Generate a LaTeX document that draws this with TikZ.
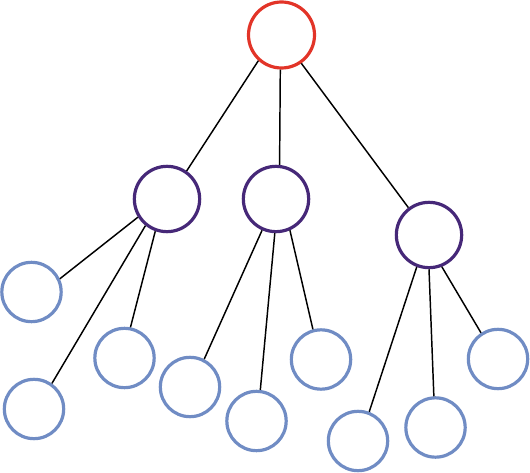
\documentclass[tikz,border=0pt]{standalone}
\usepackage{tikz}
\definecolor{rootred}{RGB}{226,52,40}
\definecolor{midpurple}{RGB}{70,40,120}
\definecolor{leafblue}{RGB}{112,140,196}
\tikzset{every picture/.style={line width=0.75pt}}
\tikzset{
rootnode/.style={circle,draw=rootred,line width=2.4pt,minimum size=49.5pt,inner sep=0pt},
midnode/.style={circle,draw=midpurple,line width=2.4pt,minimum size=49pt,inner sep=0pt},
leafnode/.style={circle,draw=leafblue,line width=2.4pt,minimum size=44.5pt,inner sep=0pt},
edgeline/.style={draw=black,line width=1.1pt}}

\begin{document}
\begin{tikzpicture}[x=0.75pt,y=0.75pt,yscale=-1,xscale=1]
\useasboundingbox (0,0) rectangle (530,473);

%Shape: Circle [root]
\node [rootnode] (root) at (281.5,35) {};
%Shape: Circle [second level]
\node [midnode] (mL) at (167,199) {};
\node [midnode] (mM) at (276,199) {};
\node [midnode] (mR) at (429,235) {};
%Shape: Circle [leaves]
\node [leafnode] (l1) at (31.5,292) {};
\node [leafnode] (l2) at (34,409) {};
\node [leafnode] (l3) at (124.5,358) {};
\node [leafnode] (l4) at (190,387) {};
\node [leafnode] (l5) at (256.5,421) {};
\node [leafnode] (l6) at (321,359.5) {};
\node [leafnode] (l7) at (358,441) {};
\node [leafnode] (l8) at (435.5,427.5) {};
\node [leafnode] (l9) at (498,359) {};

%Straight Lines [root to second level]
\draw [edgeline] (root.228) -- (mL.55) ;
\draw [edgeline] (root.268) -- (mM.84) ;
\draw [edgeline] (root.305) -- (mR.127) ;
%Straight Lines [left subtree]
\draw [edgeline] (mL.212) -- (l1.25) ;
\draw [edgeline] (mL.231) -- (l2.55) ;
\draw [edgeline] (mL.250) -- (l3.79) ;
%Straight Lines [middle subtree]
\draw [edgeline] (mM.246) -- (l4.63) ;
\draw [edgeline] (mM.268) -- (l5.83) ;
\draw [edgeline] (mM.294) -- (l6.105) ;
%Straight Lines [right subtree]
\draw [edgeline] (mR.249) -- (l7.69) ;
\draw [edgeline] (mR.270) -- (l8.93) ;
\draw [edgeline] (mR.292) -- (l9.123) ;
\end{tikzpicture}
\end{document}
